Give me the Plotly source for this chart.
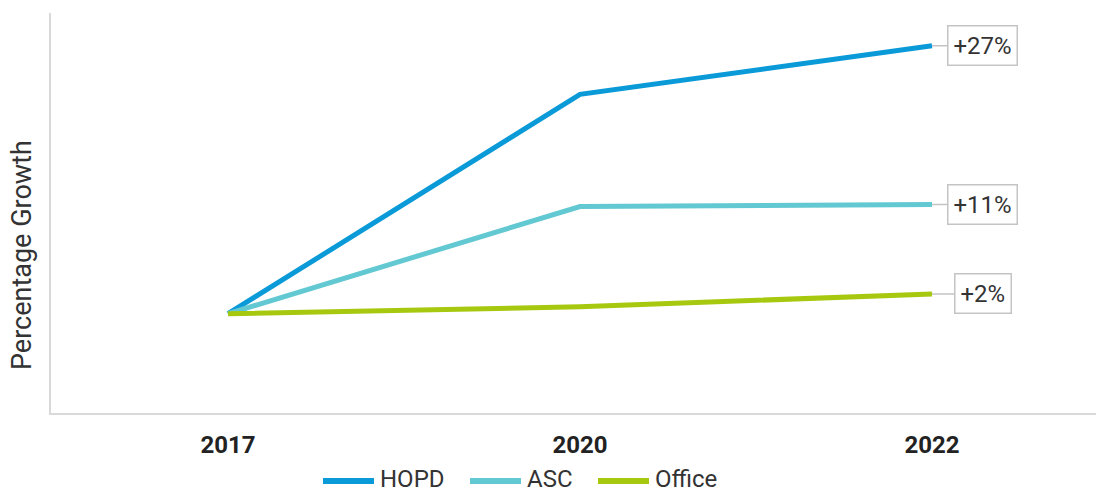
import plotly.graph_objects as go

years = ["2017", "2020", "2022"]
hopd = [0, 22.1, 27]
asc = [0, 10.8, 11]
office = [0, 0.7, 2]
labels = ["+27%", "+11%", "+2%"]
series_names = ["HOPD", "ASC", "Office"]
colors = ["#0a9ad8", "#62c8d2", "#a6c90f"]
y_title = "Percentage Growth"

# layout geometry (pixels)
W, H = 1096, 493
L, R, T, B = 51, 0, 13, 80
PW, PH = W - L - R, H - T - B
legend_px = [320, 467, 595]   # left edge of each legend swatch
legend_py = 481
swatch_w = 57


def px2paper_x(px):
    return (px - L) / PW


def py2paper_y(py):
    return (H - B - py) / PH


fig = go.Figure()
for name, vals, col in zip(series_names, [hopd, asc, office], colors):
    fig.add_trace(go.Scatter(x=years, y=vals, mode="lines", name=name,
                             line=dict(color=col, width=5), showlegend=False))

last_idx = len(years) - 1
for vals, lab in zip([hopd, asc, office], labels):
    fig.add_annotation(x=last_idx, y=vals[-1], xref="x", yref="y", text=lab,
                       showarrow=True, arrowhead=0, arrowcolor="#c4c4c4", arrowwidth=1.5,
                       ax=51, ay=0, axref="pixel", ayref="pixel",
                       bordercolor="#c4c4c4", borderwidth=1.5,
                       borderpad=5, bgcolor="white",
                       font=dict(family="Roboto", size=24, color="#333333"),
                       xanchor="center", yanchor="middle")

# y-axis title
fig.add_annotation(x=px2paper_x(22), y=py2paper_y(255), xref="paper", yref="paper",
                   text=y_title, textangle=-90, showarrow=False,
                   xanchor="center", yanchor="middle",
                   font=dict(family="Roboto", size=27, color="#333333"))

# legend drawn by hand (wide rounded swatches as in the original)
for name, col, lx in zip(series_names, colors, legend_px):
    fig.add_shape(type="line", xref="paper", yref="paper",
                  x0=px2paper_x(lx + 3), x1=px2paper_x(lx + swatch_w - 3),
                  y0=py2paper_y(legend_py), y1=py2paper_y(legend_py),
                  line=dict(color=col, width=6))
    fig.add_annotation(x=px2paper_x(lx + swatch_w + 2), y=py2paper_y(legend_py - 2),
                       xref="paper", yref="paper", text=name, showarrow=False,
                       xanchor="left", yanchor="middle", borderpad=0,
                       font=dict(family="Roboto", size=24, color="#333333"))

fig.update_layout(
    width=W, height=H,
    margin=dict(l=L, r=R, t=T, b=B, autoexpand=False),
    plot_bgcolor="white", paper_bgcolor="white",
    font=dict(family="Roboto", size=22, color="#333333"),
    showlegend=False,
    xaxis=dict(type="category", range=[-0.503, 2.466], showgrid=False,
               showline=True, linecolor="#d9d9d9", linewidth=2, ticks="",
               tickfont=dict(family="Roboto", size=24, color="#222222", weight="bold"),
               ticklabelstandoff=9, zeroline=False, automargin=False),
    yaxis=dict(range=[-10, 30.3], showgrid=False, showline=True, linecolor="#d9d9d9",
               linewidth=2, showticklabels=False, ticks="", zeroline=False, automargin=False),
)

fig.write_html("out.html")
